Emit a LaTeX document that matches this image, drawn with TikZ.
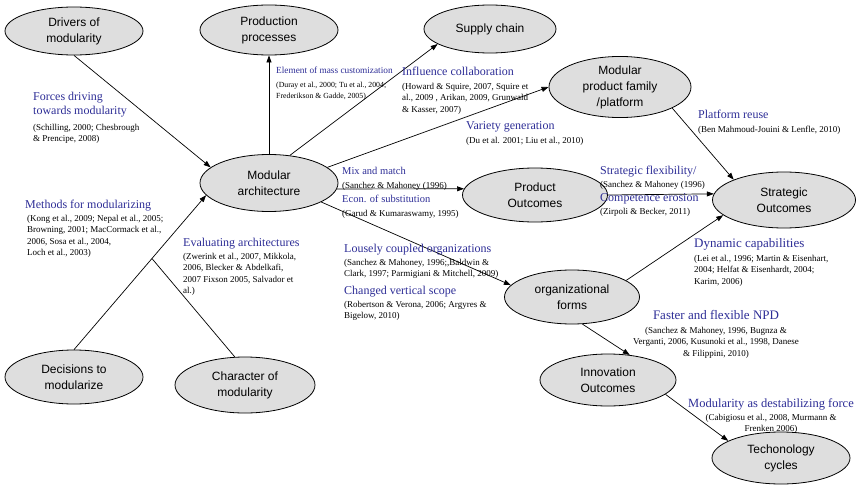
\documentclass[tikz,border=0pt]{standalone}
\usepackage{fontspec}
\setmainfont{Liberation Serif}
\newfontfamily\nodefont{Liberation Sans}
\usetikzlibrary{shapes.geometric,arrows.meta}
\definecolor{ovalfill}{RGB}{222,222,222}
\definecolor{ttlblue}{RGB}{45,45,150}
\begin{document}
\begin{tikzpicture}[x=1pt,y=-1pt,
  oval/.style={ellipse,draw=black,line width=0.8pt,fill=ovalfill,inner sep=0pt,
    align=center,font=\nodefont\fontsize{12}{16}\selectfont},
  link/.style={line width=0.7pt,-{Triangle[length=7pt,width=5pt]}},
  plain/.style={line width=0.7pt},
  ttl/.style={inner sep=0pt,anchor=north west,align=left,text=ttlblue,
    font=\fontsize{12}{14}\selectfont},
  refs/.style={inner sep=0pt,anchor=north west,align=left,
    font=\fontsize{9}{11.5}\selectfont},
]
\useasboundingbox (0,0) rectangle (857,487);

% concepts
\node[oval,minimum width=138pt,minimum height=48pt] (drv)  at (74,31)   {Drivers of\\modularity};
\node[oval,minimum width=138pt,minimum height=50pt] (prod) at (269,30)  {Production\\processes};
\node[oval,minimum width=132pt,minimum height=48pt] (sup)  at (490,29)  {Supply chain};
\node[oval,minimum width=142pt,minimum height=60pt] (fam)  at (620,87)  {Modular\\product family\\/platform};
\node[oval,minimum width=138pt,minimum height=57pt] (arch) at (269,183) {Modular\\architecture};
\node[oval,minimum width=145pt,minimum height=54pt] (pout) at (535,195) {Product\\Outcomes};
\node[oval,minimum width=143pt,minimum height=56pt] (sout) at (784,200) {Strategic\\Outcomes};
\node[oval,minimum width=138pt,minimum height=54pt] (dec)  at (74,377)  {Decisions to\\modularize};
\node[oval,minimum width=140pt,minimum height=56pt] (chr)  at (245,385) {Character of\\modularity};
\node[oval,minimum width=135pt,minimum height=54pt] (org)  at (572,297) {organizational\\forms};
\node[oval,minimum width=136pt,minimum height=52pt] (inn)  at (608,380) {Innovation\\Outcomes};
\node[oval,minimum width=138pt,minimum height=52pt] (tec)  at (781,458) {Techonology\\cycles};

% relations
\draw[link] (drv.south) -- (arch.165);
\draw[link] (arch.north) -- (prod.south);
\draw[link] (arch.53) -- (sup.196);
\draw[link] (arch.15) -- (fam.180);
\draw[link] (arch.-5) -- (pout.175);
\draw[link] (arch.-20) -- (org.169);
\draw[link] (dec.north) -- (arch.191);
\path (dec.north) -- (arch.191) coordinate[pos=0.59] (jn);
\draw[plain] (chr.110) -- (jn);
\draw[link] (pout.east) -- (sout.175);
\draw[link] (fam.-22) -- (sout.158);
\draw[link] (org.17) -- (sout.194);
\draw[link] (org.-69) -- (inn.49);
\draw[link] (inn.-14) -- (tec.162);

% relation labels
\node[ttl]  (t1) at (33,92)  {Forces driving\\towards modularity};
\node[refs] (r1) at (33,124) {(Schilling, 2000; Chesbrough\\\& Prencipe, 2008)};

\node[ttl,font=\fontsize{9.3}{11}\selectfont]  (t2) at (276,67) {Element of mass customization};
\node[refs,font=\fontsize{7.8}{10.5}\selectfont] (r2) at (276,82) {(Duray et al., 2000; Tu et al., 2004;\\Frederikson \& Gadde, 2005)};

\node[ttl]  (t3) at (402,67) {Influence collaboration};
\node[refs] (r3) at (402,83) {(Howard \& Squire, 2007, Squire et\\al., 2009 , Arikan, 2009, Grunwald\\\& Kasser, 2007)};

\node[ttl]  (t4) at (466,121) {Variety generation};
\node[refs] (r4) at (466,137) {(Du et al. 2001; Liu et al., 2010)};

\node[ttl]  (t5) at (698,110) {Platform reuse};
\node[refs] (r5) at (698,126) {(Ben Mahmoud-Jouini \& Lenfle, 2010)};

\node[ttl,font=\fontsize{10.5}{12}\selectfont]  (t6a) at (342,167) {Mix and match};
\node[refs] (r6a) at (342,182) {(Sanchez \& Mahoney (1996)};
\node[ttl,font=\fontsize{10.5}{12}\selectfont]  (t6b) at (342,195) {Econ. of substitution};
\node[refs] (r6b) at (342,210) {(Garud \& Kumaraswamy, 1995)};

\node[ttl]  (t7a) at (600,166) {Strategic flexibility/};
\node[refs] (r7a) at (600,181) {(Sanchez \& Mahoney (1996)};
\node[ttl]  (t7b) at (600,193) {Competence erosion};
\node[refs] (r7b) at (600,208) {(Zirpoli \& Becker, 2011)};

\node[ttl]  (t8) at (25,200) {Methods for modularizing};
\node[refs] (r8) at (27,215) {(Kong et al., 2009; Nepal et al., 2005;\\Browning, 2001; MacCormack et al.,\\2006, Sosa et al., 2004,\\Loch et al., 2003)};

\node[ttl]  (t9) at (183,238) {Evaluating architectures};
\node[refs] (r9) at (183,253) {(Zwerink et al., 2007, Mikkola,\\2006, Blecker \& Abdelkafi,\\2007 Fixson 2005, Salvador et\\al.)};

\node[ttl]  (t10a) at (344,244) {Lousely coupled organizations};
\node[refs] (r10a) at (344,259) {(Sanchez \& Mahoney, 1996;,Baldwin \&\\Clark, 1997; Parmigiani \& Mitchell, 2009)};
\node[ttl]  (t10b) at (344,286) {Changed vertical scope};
\node[refs] (r10b) at (344,301) {(Robertson \& Verona, 2006; Argyres \&\\Bigelow, 2010)};

\node[ttl,font=\fontsize{13}{15}\selectfont]  (t11) at (694,238) {Dynamic capabilities};
\node[refs] (r11) at (694,255) {(Lei et al., 1996; Martin \& Eisenhart,\\2004; Helfat \& Eisenhardt, 2004;\\Karim, 2006)};

\node[ttl,anchor=north,align=center,font=\fontsize{13}{15}\selectfont]  (t12) at (716,310) {Faster and flexible NPD};
\node[refs,anchor=north,align=center] (r12) at (716,327) {(Sanchez \& Mahoney, 1996, Bugnza \&\\Verganti, 2006, Kusunoki et al., 1998, Danese\\\& Filippini, 2010)};

\node[ttl,anchor=north,align=center,font=\fontsize{12.5}{14}\selectfont]  (t13) at (771,398) {Modularity as destabilizing force};
\node[refs,anchor=north,align=center] (r13) at (771,414) {(Cabigiosu et al., 2008, Murmann \&\\Frenken 2006)};
\end{tikzpicture}
\end{document}
